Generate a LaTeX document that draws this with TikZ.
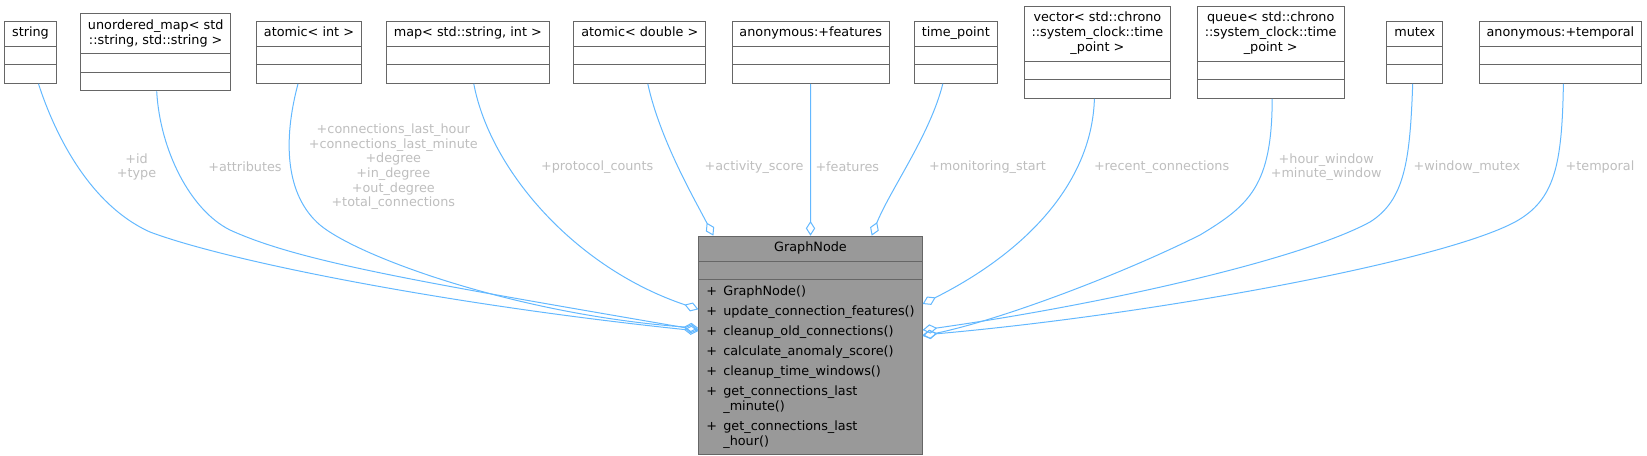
\documentclass[tikz,border=0pt]{standalone}
\usepackage{fontspec}
\setmainfont{DejaVu Sans}
\usetikzlibrary{arrows.meta,shapes.multipart,calc}
\definecolor{edgeblue}{HTML}{63B8FF}
\definecolor{framegray}{HTML}{666666}
\definecolor{mainfill}{HTML}{999999}
\definecolor{labelgray}{HTML}{BEBEBE}

\begin{document}
\begin{tikzpicture}[
    x=0.75pt, y=-0.75pt,
    classbox/.style={draw=framegray, line width=0.75pt, fill=white, rectangle split, rectangle split parts=3,
        align=center, inner xsep=5.6pt, inner ysep=3.375pt, rectangle split empty part height=6.4pt},
    mainbox/.style={classbox, fill=mainfill, rectangle split part align={center,left,left}},
    assoc/.style={draw=edgeblue, line width=0.75pt, -{Diamond[open, length=11pt, width=7pt]}},
    member/.style={text=labelgray, align=center, inner sep=0pt, font=\fontsize{9.6pt}{11pt}\selectfont},
    every node/.style={font=\fontsize{9.6pt}{11.25pt}\selectfont}
]
\useasboundingbox (0,0) rectangle (1647,456);

% ---- Member types ----
\node[classbox] (strtype) at (30.5,52.3) {\strut string\nodepart{two}\nodepart{three}};
\node[classbox] (attrmap) at (155.7,52.3) {\strut unordered\_map< std\\::string, std::string >\strut\nodepart{two}\nodepart{three}};
\node[classbox] (atomint) at (309,52.3) {\strut atomic< int >\nodepart{two}\nodepart{three}};
\node[classbox] (protomap) at (467.8,52.3) {\strut map< std::string, int >\nodepart{two}\nodepart{three}};
\node[classbox] (atomdbl) at (639.8,52.3) {\strut atomic< double >\nodepart{two}\nodepart{three}};
\node[classbox] (featanon) at (810.7,52.3) {\strut anonymous:+features\nodepart{two}\nodepart{three}};
\node[classbox] (timept) at (955.8,52.3) {\strut time\_point\nodepart{two}\nodepart{three}};
\node[classbox] (recentvec) at (1097.4,52.3) {\strut vector< std::chrono\\::system\_clock::time\\\_point >\strut\nodepart{two}\nodepart{three}};
\node[classbox] (windowq) at (1270.7,52.3) {\strut queue< std::chrono\\::system\_clock::time\\\_point >\strut\nodepart{two}\nodepart{three}};
\node[classbox] (mutexcls) at (1414.7,52.3) {\strut mutex\nodepart{two}\nodepart{three}};
\node[classbox] (tempanon) at (1560.4,52.3) {\strut anonymous:+temporal\nodepart{two}\nodepart{three}};

% ---- GraphNode ----
\node[mainbox, anchor=north] (graphnode) at (810.5,235.7) {\strut GraphNode\nodepart{two}\nodepart{three}\begin{tabular}{@{}l@{\hspace{4.7pt}}l@{}}
    + & GraphNode()\\[3.75pt]
    + & update\_connection\_features()\\[3.75pt]
    + & cleanup\_old\_connections()\\[3.75pt]
    + & calculate\_anomaly\_score()\\[3.75pt]
    + & cleanup\_time\_windows()\\[3.75pt]
    + & get\_connections\_last\\
      & \_minute()\\[3.75pt]
    + & get\_connections\_last\\
      & \_hour()
\end{tabular}};

% ---- Member labels ----
\node[member] (idlbl) at (136.5,167) {+id\\+type};
\node[member] (attrlbl) at (245,166.7) {+attributes};
\node[member] (countlbl) at (393.3,166.7) {+connections\_last\_hour\\+connections\_last\_minute\\+degree\\+in\_degree\\+out\_degree\\+total\_connections};
\node[member] (protolbl) at (597.2,166.7) {+protocol\_counts};
\node[member] (scorelbl) at (754,166.7) {+activity\_score};
\node[member] (featlbl) at (847.3,166.7) {+features};
\node[member] (startlbl) at (987.5,166.7) {+monitoring\_start};
\node[member] (recentlbl) at (1161.6,166.7) {+recent\_connections};
\node[member] (windowlbl) at (1326.2,167) {+hour\_window\\+minute\_window};
\node[member] (mutexlbl) at (1466.8,166.7) {+window\_mutex};
\node[member] (templbl) at (1600,166.7) {+temporal};

% ---- Left side ----
\draw[assoc] ($(strtype.south)+(8,0)$) .. controls (55,135) and (90,205) .. (150,232)
    .. controls (230,262) and (450,305) .. ($(graphnode.north west)+(0,95.3)$);
\draw[assoc] ($(attrmap.south)+(1,0)$) .. controls (160,150) and (190,210) .. (230,230)
    .. controls (300,262) and (420,282) .. ($(graphnode.north west)+(0,94.3)$);
\draw[assoc] ($(atomint.south)+(-11,0)$) .. controls (283,140) and (285,195) .. (320,225)
    .. controls (360,258) and (520,315) .. ($(graphnode.north west)+(0,92.3)$);
\draw[assoc] ($(protomap.south)+(6,0)$) .. controls (490,170) and (575,268) .. ($(graphnode.north west)+(0,73.6)$);

% ---- Top ----
\draw[assoc] ($(atomdbl.south)+(8,0)$) .. controls (660,140) and (695,200) .. ($(graphnode.north west)+(15,0)$);
\draw[assoc] (featanon.south) -- (graphnode.north);
\draw[assoc] ($(timept.south)+(-13,0)$) .. controls (930,135) and (890,190) .. ($(graphnode.north west)+(173.3,0)$);

% ---- Right side ----
\draw[assoc] ($(recentvec.south)+(-3,0)$) .. controls (1092,180) and (1030,250) .. ($(graphnode.north east)+(0,68.3)$);
\draw[assoc] ($(windowq.south)+(1.5,0)$) .. controls (1272,185) and (1250,205) .. (1200,235)
    .. controls (1120,275) and (1000,320) .. ($(graphnode.north east)+(0,100.3)$);
\draw[assoc] ($(mutexcls.south)+(-2,0)$) .. controls (1410,160) and (1405,200) .. (1370,222)
    .. controls (1300,260) and (1100,305) .. ($(graphnode.north east)+(0,94.3)$);
\draw[assoc] ($(tempanon.south)+(3,0)$) .. controls (1562,165) and (1555,200) .. (1515,222)
    .. controls (1440,262) and (1150,315) .. ($(graphnode.north east)+(0,99.3)$);

\end{tikzpicture}
\end{document}
